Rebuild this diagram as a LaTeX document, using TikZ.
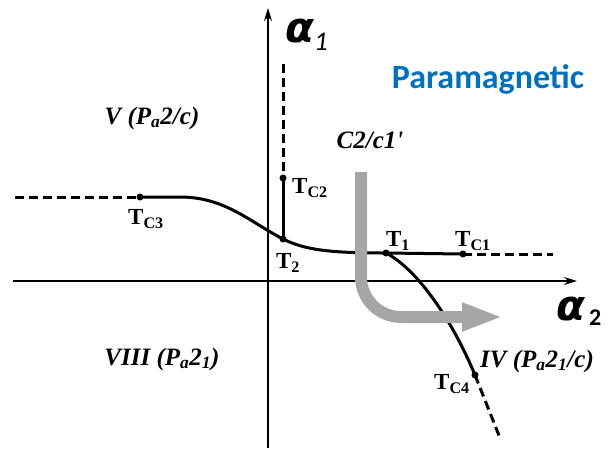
\documentclass[tikz,border=0pt]{standalone}
\usepackage{fontspec}
\setmainfont{Liberation Serif}
\newfontfamily\calfont{Carlito}
\newfontfamily\greekfont{DejaVu Sans}
\usetikzlibrary{arrows.meta}
\definecolor{parablue}{HTML}{0070C0}
\definecolor{routegray}{HTML}{A6A6A6}

\begin{document}
\begin{tikzpicture}[x=1pt,y=-1pt,
  axis/.style={line width=1.3pt,-{Stealth[length=13pt,width=8pt]}},
  phase/.style={line width=3pt},
  ext/.style={line width=3pt,dash pattern=on 9pt off 5pt},
  dot/.style={circle,fill,inner sep=0pt,minimum size=7pt},
  tlab/.style={font=\fontsize{23}{25}\selectfont\bfseries,inner sep=1pt},
  grp/.style={font=\fontsize{25}{28}\selectfont\bfseries\itshape,inner sep=0pt},
  alab/.style={font=\greekfont\bfseries\itshape\fontsize{42}{46}\selectfont,inner sep=0pt},
  route/.style={line width=12pt,draw=routegray,rounded corners=40pt,
                -{Triangle[length=41pt,width=26pt]}}
]
\useasboundingbox (0,0) rectangle (615,448);
% axes
\coordinate (yb) at (268,448);
\coordinate (yt) at (268,8);
\coordinate (xl) at (13,281);
\coordinate (xr) at (577,281);
\draw[axis] (yb) -- (yt);
\draw[axis] (xl) -- (xr);
\node[alab,anchor=base west] (a1) at (285,42)
  {α\raisebox{-8pt}{\calfont\mdseries\itshape\fontsize{27}{27}\selectfont 1}};
\node[alab,anchor=base west] (a2) at (556,320)
  {α\hspace{4pt}\raisebox{-5pt}{\calfont\bfseries\upshape\fontsize{24}{24}\selectfont 2}};
% transition points
\node[dot] (tc3) at (140,197) {};
\node[dot] (tc2) at (283,178) {};
\node[dot] (t2)  at (283,239) {};
\node[dot] (t1)  at (386,253) {};
\node[dot] (tc1) at (463,254) {};
\node[dot] (tc4) at (475,375) {};
\coordinate (e3) at (15,197);
\coordinate (e2) at (283,64);
\coordinate (e1) at (553,254);
\coordinate (e4) at (500,438);
% phase boundaries
\draw[ext] (e3) -- (tc3.center);
\draw[phase] (tc3.center) -- (180,197) .. controls (225,197) and (250,222) .. (t2.center)
  .. controls (305,250) and (330,253) .. (t1.center) -- (tc1.center);
\draw[ext] (tc1.center) -- (e1);
\draw[ext] (e2) -- (tc2.center);
\draw[phase] (tc2.center) -- (t2.center);
\draw[phase] (t1.center) .. controls (415,268) and (450,315) .. (tc4.center);
\draw[ext] (tc4.center) -- (e4);
% labels of points
\node[tlab] (ltc3) at (146,219) {T\textsubscript{C3}};
\node[tlab,anchor=west] (ltc2) at (291,188) {T\textsubscript{C2}};
\node[tlab] (lt2) at (288,263) {T\textsubscript{2}};
\node[tlab] (lt1) at (398,241) {T\textsubscript{1}};
\node[tlab] (ltc1) at (473,241) {T\textsubscript{C1}};
\node[tlab] (ltc4) at (452,384) {T\textsubscript{C4}};
% phases
\node[font=\calfont\bfseries\fontsize{34}{36}\selectfont,text=parablue] (para) at (488,79) {Paramagnetic};
\node[grp] (pm) at (370,140) {C2/c1\textquotesingle};
\node[grp] (ph5) at (152,118) {V (P\textsubscript{a}2/c)};
\node[grp] (ph8) at (162,359) {VIII (P\textsubscript{a}2\textsubscript{1})};
\node[grp] (ph4) at (537,361) {IV (P\textsubscript{a}2\textsubscript{1}/c)};
% cooling route
\coordinate (rs) at (361,172);
\coordinate (re) at (503,317);
\draw[route] (rs) |- (re);
\end{tikzpicture}
\end{document}
